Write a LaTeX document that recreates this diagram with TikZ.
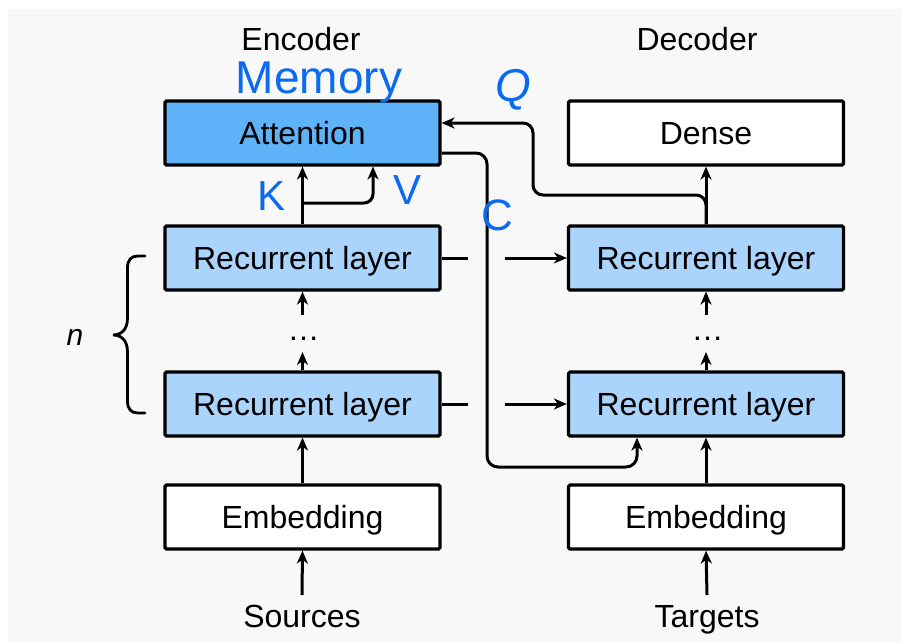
\documentclass[tikz,border=0pt]{standalone}
\usepackage{fontspec}
\setmainfont{Liberation Sans}
\usetikzlibrary{arrows.meta}
\definecolor{bggray}{HTML}{F8F8F8}
\definecolor{attblue}{HTML}{5EB2F8}
\definecolor{recblue}{HTML}{AAD4FB}
\definecolor{penblue}{HTML}{0A6BF2}
\begin{document}
\begin{tikzpicture}[x=1pt,y=-1pt,
  box/.style={draw=black, line width=3.2pt, rounded corners=1.5pt, minimum width=275pt, minimum height=64pt,
    font=\fontsize{32}{38}\selectfont, text height=23pt, text depth=0pt, inner sep=0pt},
  lbl/.style={font=\fontsize{32}{38}\selectfont, text height=23pt, text depth=0pt, inner sep=0pt},
  arr/.style={line width=3pt, -{Stealth[length=13pt,width=11pt,inset=4pt]}},
  ln/.style={line width=3pt},
  pen/.style={text=penblue, inner sep=0pt}]
\useasboundingbox (0,0) rectangle (901,642);
\fill[white] (0,0) rectangle (901,642);
\fill[bggray] (8,9) rectangle (901,642);

% titles
\node[lbl] (enc) at (301,38.5) {Encoder};
\node[lbl] (dec) at (697,38.5) {Decoder};

% boxes
\node[box, fill=attblue] (att) at (302.5,133) {Attention};
\node[box, fill=white] (dense) at (706,133) {Dense};
\node[box, fill=recblue] (recE2) at (302.5,258) {Recurrent layer};
\node[box, fill=recblue] (recE1) at (302.5,404) {Recurrent layer};
\node[box, fill=recblue] (recD2) at (706,258) {Recurrent layer};
\node[box, fill=recblue] (recD1) at (706,404) {Recurrent layer};
\node[box, fill=white] (embE) at (302.5,517) {Embedding};
\node[box, fill=white] (embD) at (706,517) {Embedding};

% inputs
\node[lbl] (src) at (302,616) {Sources};
\node[lbl] (tgt) at (707,616) {Targets};

% dots
\node[lbl, text height=4pt, inner sep=0pt] (dotsE) at (303.5,338) {\ldots};
\node[lbl, text height=4pt, inner sep=0pt] (dotsD) at (707.5,338) {\ldots};

% vertical arrows encoder
\draw[arr] (src.north |- 0,595) -- (embE.south);
\draw[arr] (embE.north) -- (recE1.south);
\draw[arr] (recE1.north) -- (302.5,352);
\draw[arr] (302.5,315) -- (recE2.south);
\draw[arr] (recE2.north) -- (att.south);
\coordinate (kv) at (302.5,203);
\draw[arr, rounded corners=9pt] (kv) -- (373,203) -- (373,166.5);

% vertical arrows decoder
\draw[arr] (tgt.north |- 0,595) -- (embD.south);
\draw[arr] (embD.north) -- (recD1.south);
\draw[arr] (recD1.north) -- (706,352);
\draw[arr] (706,315) -- (recD2.south);
\draw[arr] (recD2.north) -- (dense.south);

% Q connector
\draw[arr, rounded corners=10pt] (recD2.north) -- (706,195) -- (533,195) -- (533,123) -- (att.east |- 0,123);

% C connector
\draw[arr, rounded corners=11pt] (att.east |- 0,153) -- (487,153) -- (487,467) -- (637,467) -- (recD1.south -| 637,0);

% encoder -> decoder state
\coordinate (s2) at (505,258);
\coordinate (s1) at (505,404);
\draw[ln] (recE2.east) -- (468,258);
\draw[arr] (s2) -- (recD2.west);
\draw[ln] (recE1.east) -- (468,404);
\draw[arr] (s1) -- (recD1.west);

% brace
\draw[line width=2.8pt, line cap=round]
  (145,256) -- (138,256) .. controls (131,256) and (127.5,260) .. (127.5,268) -- (127.5,318)
  .. controls (127.5,330) and (121,335) .. (113,335)
  .. controls (121,335) and (127.5,340) .. (127.5,352) -- (127.5,401)
  .. controls (127.5,409) and (131,413) .. (138,413) -- (145,413);
\node[lbl, font=\fontsize{30}{36}\selectfont\itshape] (n) at (75,334) {n};

% handwritten annotations
\node[pen, font=\fontsize{46}{52}\selectfont] (mem) at (319,82) {Memory};
\node[pen, font=\fontsize{46}{50}\selectfont\itshape] (q) at (513,90) {Q};
\node[pen, font=\fontsize{42}{50}\selectfont] (k) at (272,196) {K};
\node[pen, font=\fontsize{42}{50}\selectfont] (v) at (408,190) {V};
\node[pen, font=\fontsize{44}{50}\selectfont] (c) at (497,215) {C};
\end{tikzpicture}
\end{document}
